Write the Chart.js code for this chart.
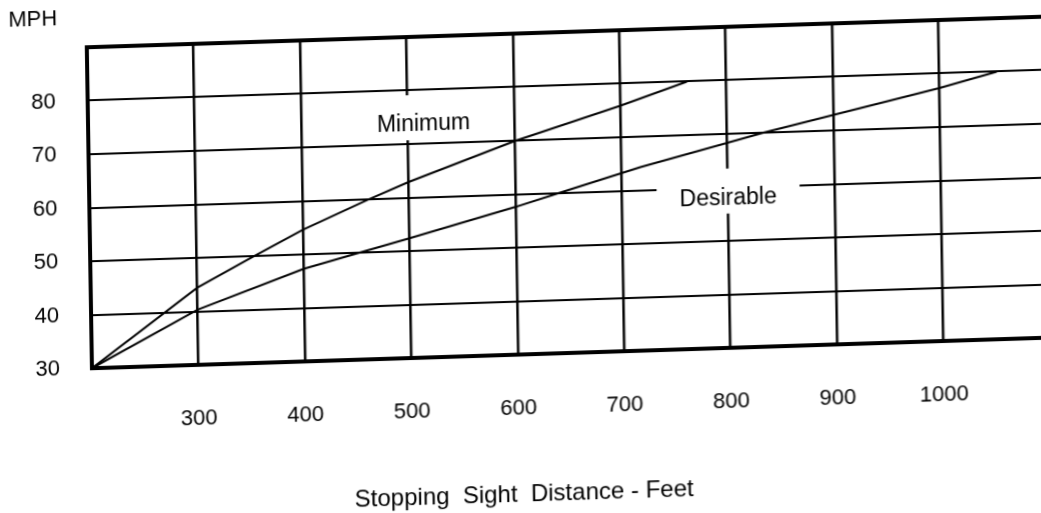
<!DOCTYPE html>
<html>
<head>
<meta charset="utf-8">
<script src="https://cdn.jsdelivr.net/npm/chart.js@4/dist/chart.umd.min.js"></script>
<style>
  html, body { margin: 0; padding: 0; background: #fff; overflow: hidden; width: 1041px; height: 513px; }
  #wrap { position: relative; width: 1041px; height: 513px; overflow: hidden; }
  /* the printed sheet sits slightly askew */
  #sight { position: absolute; left: 0; top: 0; transform-origin: 0 0; transform: matrix(1, -0.032, 0.016, 1, 0, 0); }
</style>
</head>
<body>
<div id="wrap"><canvas id="sight" width="1060" height="540"></canvas></div>
<script>
// Stopping sight distance (feet) against design speed (MPH)
const feetTicks = [300, 400, 500, 600, 700, 800, 900, 1000];
const mphTicks = [30, 40, 50, 60, 70, 80];

const minimumFeet = [200, 300, 352, 400, 461, 500, 600, 700, 763];
const minimumMph  = [30, 44.4, 49.8, 54.6, 59.8, 62.9, 69.9, 75.9, 80];

const desirableFeet = [200, 300, 400, 453, 500, 600, 642, 718, 800, 834, 900, 1000, 1054];
const desirableMph  = [30, 40.3, 47.3, 50, 52.4, 57.6, 60, 64.3, 68.3, 70, 72.9, 77.3, 80];

const curveLabels = [
  { text: 'Minimum',   feet: 515, mph: 73.6, boxW: 130, boxH: 45 },
  { text: 'Desirable', feet: 800, mph: 58.0, boxW: 143, boxH: 45 }
];

const FONT = '"Liberation Sans", Arial, Helvetica, sans-serif';

const toPoints = (xs, ys) => xs.map((x, i) => ({ x: x, y: ys[i] }));

// Curve names sit on white patches that interrupt the grid beneath them
const curveLabelPlugin = {
  id: 'curveLabels',
  beforeDatasetsDraw(chart) {
    const ctx = chart.ctx;
    const sx = chart.scales.x, sy = chart.scales.y;
    ctx.save();
    curveLabels.forEach(l => {
      const px = sx.getPixelForValue(l.feet);
      const py = sy.getPixelForValue(l.mph);
      ctx.fillStyle = '#fff';
      ctx.fillRect(px - l.boxW / 2, py - 7 - l.boxH / 2, l.boxW, l.boxH);
      ctx.fillStyle = '#000';
      ctx.font = '23px ' + FONT;
      ctx.textAlign = 'center';
      ctx.textBaseline = 'middle';
      ctx.fillText(l.text, px, py);
    });
    ctx.restore();
  },
  afterDraw(chart) {
    const ctx = chart.ctx;
    const a = chart.chartArea;
    ctx.save();
    ctx.fillStyle = '#000';
    ctx.textBaseline = 'middle';
    ctx.font = '22px ' + FONT;
    ctx.textAlign = 'left';
    ctx.fillText('MPH', 8, 21);
    ctx.font = '24px ' + FONT;
    ctx.textAlign = 'center';
    ctx.fillText('Stopping  Sight  Distance - Feet', a.left + 430, a.bottom + 140);
    ctx.restore();
  }
};

new Chart(document.getElementById('sight'), {
  type: 'line',
  data: {
    datasets: [
      { label: 'Minimum',   data: toPoints(minimumFeet, minimumMph) },
      { label: 'Desirable', data: toPoints(desirableFeet, desirableMph) }
    ]
  },
  options: {
    responsive: false,
    animation: false,
    devicePixelRatio: 1,
    layout: { padding: { top: 50, right: 16, left: 0, bottom: 0 } },
    elements: {
      point: { radius: 0 },
      line: { borderColor: '#000', borderWidth: 2, tension: 0, fill: false }
    },
    plugins: { legend: { display: false }, tooltip: { enabled: false } },
    scales: {
      x: {
        type: 'linear',
        min: 200,
        max: 1100,
        afterFit(scale) { scale.height = 169; },
        ticks: {
          stepSize: 100,
          autoSkip: false,
          maxRotation: 0,
          padding: 0,
          color: '#000',
          font: { size: 22, family: FONT },
          callback: v => feetTicks.includes(v) ? String(v) : ''
        },
        grid: {
          color: '#000',
          drawTicks: true,
          tickLength: 41,
          tickColor: 'rgba(0,0,0,0)',
          lineWidth: c => (c.tick && c.tick.value === 200) ? 0 : 2.5
        },
        border: { display: true, color: '#000', width: 4 }
      },
      y: {
        min: 30,
        max: 90,
        afterFit(scale) { scale.width = 86; },
        ticks: {
          stepSize: 10,
          padding: 0,
          color: '#000',
          font: { size: 22, family: FONT },
          callback: v => mphTicks.includes(v) ? String(v) : ''
        },
        grid: {
          color: '#000',
          drawTicks: true,
          tickLength: 32,
          tickColor: 'rgba(0,0,0,0)',
          lineWidth: c => (c.tick && c.tick.value === 90) ? 4 : 2
        },
        border: { display: true, color: '#000', width: 4 }
      }
    }
  },
  plugins: [curveLabelPlugin]
});
</script>
</body>
</html>
